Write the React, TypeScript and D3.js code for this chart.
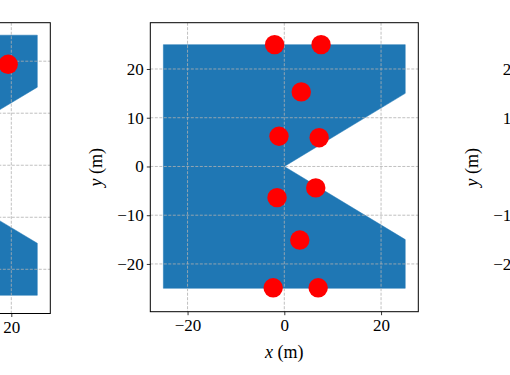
import React, { useRef, useEffect } from "react";
import * as d3 from "d3";

// building footprint (m), same in every panel
const polyX = [-25, 25, 25, 0, 25, 25, -25];
const polyY = [25, 25, 15, 0, -15, -25, -25];

// turbine positions, middle panel
const midX = [-2, 7.6, 3.5, -1.1, 7.2, 6.5, -1.5, 3.2, -2.3, 7.0];
const midY = [25, 25, 15.3, 6.2, 5.9, -4.4, -6.4, -15.1, -24.9, -24.9];

// only one visible point of the left panel
const leftX = [19.4];
const leftY = [19.4];

const xTicks = [-20, 0, 20];
const yTicks = [-20, -10, 0, 10, 20];

const FONT = "'Liberation Serif', 'DejaVu Serif', serif";

type Panel = {
  id: string;
  x: d3.ScaleLinear<number, number>;
  y: d3.ScaleLinear<number, number>;
  px: number[];
  py: number[];
};

export default function App() {
  const svgRef = useRef<SVGSVGElement>(null);

  useEffect(() => {
    const svg = d3.select(svgRef.current);
    svg.selectAll("*").remove();

    const panels: Panel[] = [
      {
        id: "left",
        x: d3.scaleLinear().domain([-27.5, 27.5]).range([50.3 - 286, 50.3]),
        y: d3.scaleLinear().domain([-28.5, 27.4]).range([313.5, 22.7]),
        px: leftX,
        py: leftY,
      },
      {
        id: "mid",
        x: d3.scaleLinear().domain([-27.7, 27.7]).range([150.3, 418.3]),
        y: d3.scaleLinear().domain([-29.8, 29.5]).range([311.7, 22.7]),
        px: midX,
        py: midY,
      },
      {
        id: "right",
        x: d3.scaleLinear().domain([-27.7, 27.7]).range([526.3, 794.3]),
        y: d3.scaleLinear().domain([-29.8, 29.5]).range([311.7, 22.7]),
        px: [],
        py: [],
      },
    ];

    panels.forEach((p) => {
      const [x0, x1] = p.x.range();
      const [y1, y0] = p.y.range();
      const clipId = `clip-${p.id}`;
      svg
        .append("clipPath")
        .attr("id", clipId)
        .append("rect")
        .attr("x", x0)
        .attr("y", y0)
        .attr("width", x1 - x0)
        .attr("height", y1 - y0);

      const g = svg.append("g").attr("clip-path", `url(#${clipId})`);

      const pts = polyX.map((v, i) => [p.x(v), p.y(polyY[i])] as [number, number]);
      g.append("path")
        .attr("d", d3.line()(pts) + "Z")
        .attr("fill", "#1f77b4")
        .attr("stroke", "#1f77b4")
        .attr("stroke-width", 0.5);

      // grid
      g.selectAll(".gx")
        .data(xTicks)
        .join("line")
        .attr("x1", (d) => p.x(d))
        .attr("x2", (d) => p.x(d))
        .attr("y1", y0)
        .attr("y2", y1)
        .attr("stroke", "#b0b0b0")
        .attr("stroke-width", 0.8)
        .attr("stroke-dasharray", "3,1.5");
      g.selectAll(".gy")
        .data(yTicks)
        .join("line")
        .attr("x1", x0)
        .attr("x2", x1)
        .attr("y1", (d) => p.y(d))
        .attr("y2", (d) => p.y(d))
        .attr("stroke", "#b0b0b0")
        .attr("stroke-width", 0.8)
        .attr("stroke-dasharray", "3,1.5");

      g.selectAll("circle")
        .data(p.px.map((v, i) => [v, p.py[i]]))
        .join("circle")
        .attr("cx", (d) => p.x(d[0]))
        .attr("cy", (d) => p.y(d[1]))
        .attr("r", 9.7)
        .attr("fill", "red");

      // frame
      svg
        .append("rect")
        .attr("x", x0)
        .attr("y", y0)
        .attr("width", x1 - x0)
        .attr("height", y1 - y0)
        .attr("fill", "none")
        .attr("stroke", "black")
        .attr("stroke-width", 1);

      const xa = svg
        .append("g")
        .attr("transform", `translate(0,${y1})`)
        .call(d3.axisBottom(p.x).tickValues(xTicks).tickSize(3.5).tickPadding(3.5).tickFormat(d3.format("d")));
      const ya = svg
        .append("g")
        .attr("transform", `translate(${x0},0)`)
        .call(d3.axisLeft(p.y).tickValues(yTicks).tickSize(3.5).tickPadding(3).tickFormat(d3.format("d")));
      [xa, ya].forEach((a) => {
        a.select(".domain").remove();
        a.selectAll("text").attr("font-family", FONT).attr("font-size", 17).attr("fill", "black");
        a.selectAll("line").attr("stroke", "black").attr("stroke-width", 0.8);
      });

      const xl = svg
        .append("text")
        .attr("x", (x0 + x1) / 2)
        .attr("y", 358)
        .attr("text-anchor", "middle")
        .attr("font-family", FONT)
        .attr("font-size", 18);
      xl.append("tspan").attr("font-style", "italic").text("x");
      xl.append("tspan").text(" (m)");

      const yl = svg
        .append("text")
        .attr("transform", `translate(${x0 - 48},${(y0 + y1) / 2}) rotate(-90)`)
        .attr("text-anchor", "middle")
        .attr("font-family", FONT)
        .attr("font-size", 18);
      yl.append("tspan").attr("font-style", "italic").text("y");
      yl.append("tspan").text(" (m)");
    });
  }, []);

  return (
    <div style={{ position: "absolute", left: 0, top: 0 }}>
      <svg ref={svgRef} width={510} height={375} style={{ display: "block", background: "white" }} />
    </div>
  );
}
